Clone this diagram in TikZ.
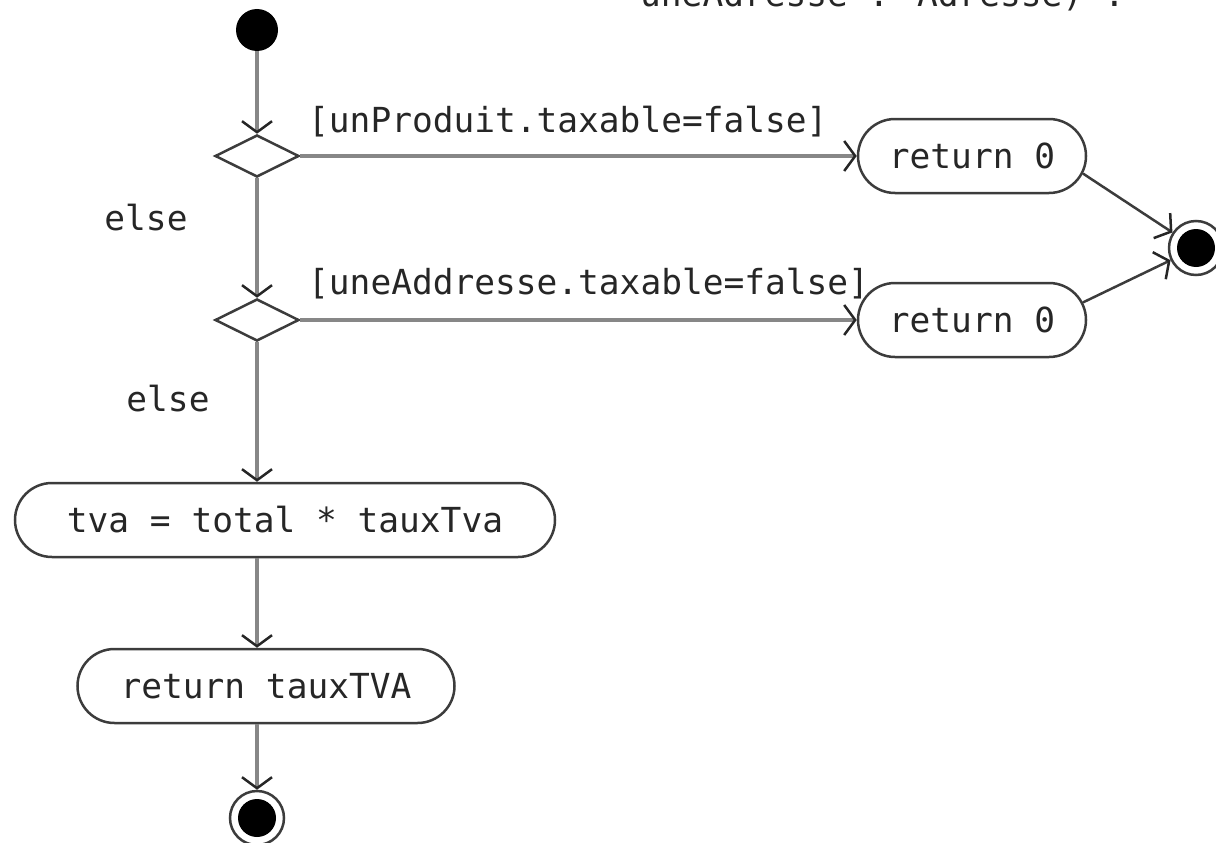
\documentclass[tikz,border=0pt]{standalone}
\usepackage{fontspec}
\newfontfamily\monof{DejaVu Sans Mono}
\usetikzlibrary{shapes.geometric,shapes.misc,arrows.meta}
\definecolor{linegray}{RGB}{135,135,135}
\definecolor{edgedark}{RGB}{60,60,60}
\begin{document}
\begin{tikzpicture}[x=1pt,y=-1pt,
  every node/.style={font=\monof\fontsize{34.5}{40}\selectfont, text=black!85},
  tip/.style={-{Straight Barb[length=11pt,width=30pt,line width=2.5pt,color=black!85]}},
  flow/.style={draw=linegray, line width=4pt, tip},
  flowdark/.style={draw=edgedark, line width=2.5pt, tip},
  activity/.style={rounded rectangle, draw=edgedark, line width=2.5pt, minimum height=74pt, inner xsep=0pt, fill=white},
  decision/.style={diamond, draw=edgedark, line width=2.5pt, minimum width=84pt, minimum height=42pt, inner sep=0pt, fill=white},
  initial/.style={circle, fill=black, minimum size=42pt, inner sep=0pt},
  finalst/.style={circle, draw=edgedark, line width=2.5pt, fill=white, minimum size=54pt, inner sep=0pt,
    path picture={\fill[black] (path picture bounding box.center) circle (19pt);}},
  lbl/.style={inner sep=0pt}
]
\useasboundingbox (0,0) rectangle (1216,843);
\clip (0,0) rectangle (1216,843);

% title text, cut off by the top edge as in the reference
\node[lbl, anchor=base west] (title) at (640,7) {uneAdresse : Adresse) :};

\node[initial] (s) at (257,30) {};
\node[decision] (d1) at (257,156) {};
\node[decision] (d2) at (257,320) {};
\node[activity, minimum width=228pt] (r1) at (972,156) {return 0};
\node[activity, minimum width=228pt] (r2) at (972,320) {return 0};
\node[finalst] (f1) at (1196,248) {};
\node[activity, minimum width=540pt] (tva) at (285,520) {tva = total * tauxTva};
\node[activity, minimum width=377pt] (rt) at (266,686) {return tauxTVA};
\node[finalst] (f2) at (257,818) {};

\node[lbl, anchor=base west] (l1) at (308,132) {[unProduit.taxable=false]};
\node[lbl, anchor=base west] (l2) at (308,294) {[uneAddresse.taxable=false]};
\node[lbl, anchor=base] (e1) at (146,230) {else};
\node[lbl, anchor=base] (e2) at (168,411) {else};

\draw[flow] (s) -- (d1);
\draw[flow] (d1) -- (r1);
\draw[flow] (d1) -- (d2);
\draw[flow] (d2) -- (r2);
\draw[flow] (d2.south) -- (d2.south |- tva.north);
\draw[flow] (tva.south -| s) -- (rt.north -| s);
\draw[flow] (rt.south -| s) -- (f2);
\draw[flowdark] (r1.-9) -- (f1);
\draw[flowdark] (r2.9) -- (f1);
\end{tikzpicture}
\end{document}
